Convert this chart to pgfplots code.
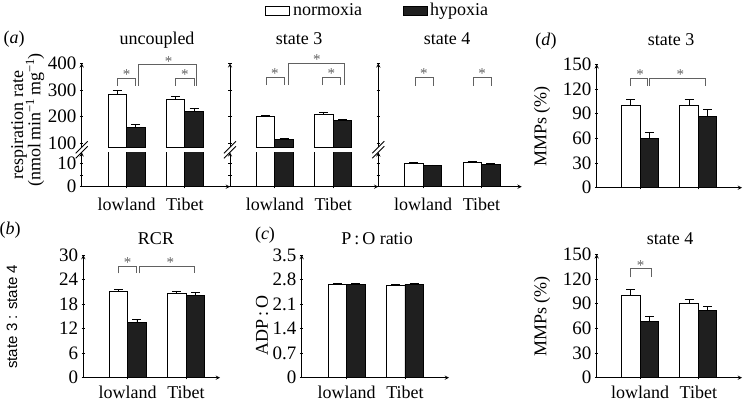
\documentclass[border=0pt]{standalone}
\usepackage{fontspec}
\setmainfont{Liberation Serif}
\newfontfamily\sansf{Liberation Sans}
\usepackage{pgfplots}
\usepackage{pgfplotstable}
\pgfplotsset{compat=1.18}

\definecolor{brkcol}{gray}{0.38}
\definecolor{hypfill}{gray}{0.12}
\newcommand\fs[1]{\fontsize{#1}{#1}\selectfont}

% columns: category, normoxia mean, error, hypoxia mean, error
\pgfplotstableread{
x n ne h he
0 285 12 161 9
1 265 12 219 11
}\unc
\pgfplotstableread{
x n ne h he
0 200 6 113 5
1 209 7 184 6
}\sthree
\pgfplotstableread{
x n ne h he
0 10.0 0.4 9.0 0.3
1 10.4 0.4 9.6 0.3
}\sfour
\pgfplotstableread{
x n ne h he
0 21.0 0.6 13.4 0.8
1 20.6 0.6 20.2 0.7
}\rcr
\pgfplotstableread{
x n ne h he
0 2.66 0.03 2.66 0.04
1 2.63 0.03 2.66 0.04
}\po
\pgfplotstableread{
x n ne h he
0 100 7 60 7
1 100 7 87 8
}\mmpthree
\pgfplotstableread{
x n ne h he
0 100 7 68 7
1 90 5 82 4
}\mmpfour

\pgfplotsset{
  panel/.style={scale only axis, clip mode=individual, ybar=0pt, bar width=18.5pt,
    axis line style={-, line width=0.9pt}, tick align=inside, major tick length=3.5pt,
    every tick/.append style={black, line width=0.8pt},
    ticklabel style={font=\fs{19}},
    /pgf/number format/assume math mode=true,
    xtick={0,1}, xticklabels={lowland,Tibet},
    xticklabel style={font=\fs{18}, anchor=base, inner sep=0pt}},
  errs/.style={error bars/.cd, y dir=plus, y explicit,
    error bar style={line width=0.9pt, black},
    error mark options={rotate=90, line width=0.9pt, mark size=4.5pt, black}},
  nor/.style={fill=white, draw=black, line width=0.9pt, errs},
  hyp/.style={fill=hypfill, draw=black, line width=0.9pt, errs},
}
% significance bracket: x1, x2, leg bottom, top, star x
\newcommand\sig[5]{%
  \draw[brkcol, line width=0.9pt] (axis cs:#1,#3) -- (axis cs:#1,#4) -- (axis cs:#2,#4) -- (axis cs:#2,#3);
  \node[text=brkcol, font=\fs{15}, anchor=base, inner sep=0pt, yshift=-1.5pt] at (axis cs:#5,#4) {*};}

\begin{document}
\begin{tikzpicture}[x=1pt,y=1pt]
\useasboundingbox (0,0) rectangle (745,401);

% ---------- (a) uncoupled
\begin{axis}[panel, at={(81.7pt,253.7pt)}, anchor=south west, width=148.3pt, height=84pt,
  xmin=-0.77, xmax=1.774, ymin=85, ymax=400, hide x axis, axis y line=left,
  ytick={100,200,300,400}]
\addplot[nor] table[x=x, y=n, y error=ne] {\unc};
\addplot[hyp] table[x=x, y=h, y error=he] {\unc};
\sig{-0.16}{0.16}{315}{344}{0}
\sig{0.84}{1.16}{315}{344}{1}
\sig{0.2}{1.2}{315}{394}{0.72}
\end{axis}
\begin{axis}[panel, at={(81.7pt,214.3pt)}, anchor=south west, width=148.3pt, height=34.4pt,
  xmin=-0.77, xmax=1.774, ymin=0, ymax=14.74, axis x line=bottom, axis y line=left,
  ytick={0,5,10}, yticklabels={0,,10}, xticklabel style={yshift=-22.5pt}]
\addplot[nor] table[x=x, y=n, y error=ne] {\unc};
\addplot[hyp] table[x=x, y=h, y error=he] {\unc};
\end{axis}

% ---------- (a) state 3
\begin{axis}[panel, at={(230pt,253.7pt)}, anchor=south west, width=148.3pt, height=84pt,
  xmin=-0.77, xmax=1.774, ymin=85, ymax=400, hide x axis, axis y line=left,
  ytick={100,200,300,400}, yticklabels={,,,}]
\addplot[nor] table[x=x, y=n, y error=ne] {\sthree};
\addplot[hyp] table[x=x, y=h, y error=he] {\sthree};
\sig{-0.15}{0.17}{318}{347}{0}
\sig{0.81}{1.13}{318}{347}{0.97}
\sig{0.23}{1.2}{318}{400}{0.72}
\end{axis}
\begin{axis}[panel, at={(230pt,214.3pt)}, anchor=south west, width=148.3pt, height=34.4pt,
  xmin=-0.77, xmax=1.774, ymin=0, ymax=14.74, axis x line=bottom, axis y line=left,
  ytick={0,5,10}, yticklabels={,,}, xticklabel style={yshift=-22.5pt}]
\addplot[nor] table[x=x, y=n, y error=ne] {\sthree};
\addplot[hyp] table[x=x, y=h, y error=he] {\sthree};
\end{axis}

% ---------- (a) state 4 (all values lie in the lower segment)
\begin{axis}[panel, at={(378.3pt,253.7pt)}, anchor=south west, width=143.4pt, height=84pt,
  xmin=-0.77, xmax=1.69, ymin=85, ymax=400, hide x axis, axis y line=left,
  ytick={100,200,300,400}, yticklabels={,,,}]
\sig{-0.14}{0.17}{315}{347}{0.01}
\sig{0.86}{1.17}{315}{347}{1.01}
\end{axis}
\begin{axis}[panel, at={(378.3pt,214.3pt)}, anchor=south west, width=143.4pt, height=34.4pt,
  xmin=-0.77, xmax=1.69, ymin=0, ymax=14.74, axis x line=bottom, axis y line=left,
  ytick={0,5,10}, yticklabels={,,}, xticklabel style={yshift=-22.5pt}]
\addplot[nor] table[x=x, y=n, y error=ne] {\sfour};
\addplot[hyp] table[x=x, y=h, y error=he] {\sfour};
\end{axis}

% axis breaks
\foreach \bx in {81.7,230,378.3}{
  \draw[line width=0.9pt] (\bx-6,401-153.3) -- (\bx+6,401-141.3);
  \draw[line width=0.9pt] (\bx-6,401-158.3) -- (\bx+6,401-146.3);
}

% ---------- (b) RCR
\begin{axis}[panel, at={(83.3pt,23.3pt)}, anchor=south west, width=136.7pt, height=122.7pt,
  xmin=-0.762, xmax=1.583, ymin=0, ymax=30, axis x line=bottom, axis y line=left,
  ytick={0,6,12,18,24,30}, xticklabel style={yshift=-19pt}]
\addplot[nor] table[x=x, y=n, y error=ne] {\rcr};
\addplot[hyp] table[x=x, y=h, y error=he] {\rcr};
\sig{-0.16}{0.154}{25.5}{27.3}{0}
\sig{0.2}{1.15}{25.5}{27.3}{0.73}
\end{axis}

% ---------- (c) P:O ratio
\begin{axis}[panel, at={(301.7pt,23.3pt)}, anchor=south west, width=147.3pt, height=122.7pt,
  xmin=-0.772, xmax=1.755, ymin=0, ymax=3.5, axis x line=bottom, axis y line=left,
  ytick={0,0.7,1.4,2.1,2.8,3.5}, xticklabel style={yshift=-19pt}]
\addplot[nor] table[x=x, y=n, y error=ne] {\po};
\addplot[hyp] table[x=x, y=h, y error=he] {\po};
\end{axis}

% ---------- (d) state 3
\begin{axis}[panel, at={(596.7pt,213.3pt)}, anchor=south west, width=145.3pt, height=123.4pt,
  xmin=-0.743, xmax=1.749, ymin=0, ymax=150, axis x line=bottom, axis y line=left,
  ytick={0,30,...,150}, xticklabels={,}]
\addplot[nor] table[x=x, y=n, y error=ne] {\mmpthree};
\addplot[hyp] table[x=x, y=h, y error=he] {\mmpthree};
\sig{-0.16}{0.12}{123.6}{133}{0}
\sig{0.16}{1.13}{123.6}{133}{0.69}
\end{axis}

% ---------- (d) state 4
\begin{axis}[panel, at={(596.7pt,23.3pt)}, anchor=south west, width=145.3pt, height=123.4pt,
  xmin=-0.743, xmax=1.749, ymin=0, ymax=150, axis x line=bottom, axis y line=left,
  ytick={0,30,...,150}, xticklabel style={yshift=-19pt}]
\addplot[nor] table[x=x, y=n, y error=ne] {\mmpfour};
\addplot[hyp] table[x=x, y=h, y error=he] {\mmpfour};
\sig{-0.17}{0.2}{122}{132.4}{0.01}
\end{axis}

% legend
\draw[line width=0.9pt, fill=white] (265.5,385.5) rectangle (289.5,394.5);
\draw[line width=0.9pt, fill=hypfill] (403.5,385.5) rectangle (427,394.5);

% titles and labels
\begin{scope}[every node/.style={font=\fs{18}, inner sep=0pt}]
\node[anchor=base west] at (293,385) {normoxia};
\node[anchor=base west] at (430,385) {hypoxia};
\node[anchor=base] at (14,357) {(\textit{a})};
\node[anchor=base] at (157,356) {uncoupled};
\node[anchor=base] at (299,356) {state 3};
\node[anchor=base] at (447,356) {state 4};
\node[anchor=base] at (546,355) {(\textit{d})};
\node[anchor=base] at (671,355) {state 3};
\node[anchor=base] at (10,166) {(\textit{b})};
\node[anchor=base] at (156,156) {RCR};
\node[anchor=base] at (265,161) {(\textit{c})};
\node[anchor=base] at (377,156) {P\,:\,O ratio};
\node[anchor=base] at (670,156) {state 4};
\node[rotate=90] at (19,276) {respiration rate};
\node[rotate=90] at (35,281) {(nmol\,min\textsuperscript{−1}\,mg\textsuperscript{−1})};
\node[rotate=90, font=\sansf\fs{15}] at (12,84.3) {state 3 : state 4};
\node[rotate=90] at (262,76) {ADP\,:\,O};
\node[rotate=90] at (542,274.3) {MMPs (\%)};
\node[rotate=90] at (542,84.3) {MMPs (\%)};
\end{scope}
\end{tikzpicture}
\end{document}
